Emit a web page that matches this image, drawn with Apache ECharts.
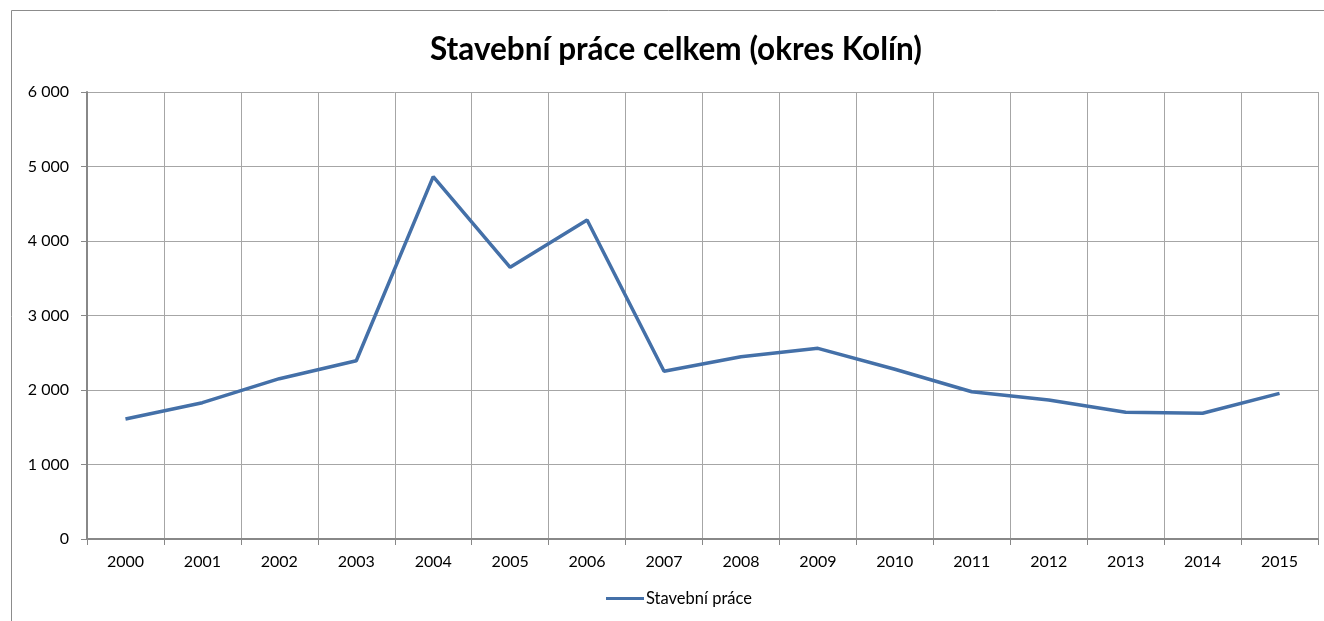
<!DOCTYPE html>
<html>
<head>
<meta charset="utf-8">
<script src="https://cdn.jsdelivr.net/npm/echarts@6/dist/echarts.min.js"></script>
<style>html,body{margin:0;padding:0;background:#fff}#c{width:1324px;height:621px}</style>
</head>
<body>
<div id="c"></div>
<script>
const years = ['2000','2001','2002','2003','2004','2005','2006','2007','2008','2009','2010','2011','2012','2013','2014','2015'];
const stavebniPrace = [1611, 1830, 2152, 2393, 4865, 3647, 4282, 2251, 2447, 2559, 2278, 1977, 1866, 1700, 1687, 1955];
const yTicks = [0, 1000, 2000, 3000, 4000, 5000, 6000];

const chart = echarts.init(document.getElementById('c'));
const fontFam = 'Lato, "Open Sans", sans-serif';
chart.setOption({
  animation: false,
  backgroundColor: '#fff',
  graphic: [{
    type: 'rect', shape: {x: 11.5, y: 10.5, width: 1400, height: 700},
    style: {fill: 'none', stroke: '#8c8c8c', lineWidth: 1}, silent: true
  }],
  title: {
    text: 'Stavební práce celkem (okres Kolín)',
    left: 425, top: 29,
    textStyle: {fontFamily: fontFam, fontWeight: 'bold', fontSize: 31.5, color: '#000'}
  },
  legend: {
    data: ['Stavební práce'], bottom: 9, left: 601,
    itemWidth: 38, itemHeight: 3, itemGap: 4,
    icon: 'rect',
    textStyle: {fontFamily: fontFam, fontSize: 16.5, color: '#000', padding: [0,0,0,-3]}
  },
  grid: {left: 87, right: 6, top: 92, bottom: 82},
  xAxis: {
    type: 'category', data: years, boundaryGap: true,
    axisLine: {lineStyle: {color: '#888', width: 2}},
    axisTick: {show: true, length: 6, lineStyle: {color: '#888'}},
    axisLabel: {fontFamily: fontFam, fontSize: 16, color: '#000', margin: 15},
    splitLine: {show: true, lineStyle: {color: '#a6a6a6', width: 1}}
  },
  yAxis: {
    type: 'value', min: 0, max: 6000, interval: 1000,
    axisLine: {show: true, lineStyle: {color: '#888', width: 2}},
    axisTick: {show: true, length: 6, lineStyle: {color: '#888'}},
    axisLabel: {
      fontFamily: fontFam, fontSize: 16, color: '#000', margin: 18,
      formatter: v => yTicks.includes(v) ? String(v).replace(/\B(?=(\d{3})+(?!\d))/g, ' ') : ''
    },
    splitLine: {show: true, lineStyle: {color: '#a6a6a6', width: 1}}
  },
  series: [{
    name: 'Stavební práce', type: 'line', data: stavebniPrace,
    symbol: 'none', lineStyle: {color: '#4470a8', width: 3.5},
    itemStyle: {color: '#4470a8'}
  }]
});
</script>
</body>
</html>
